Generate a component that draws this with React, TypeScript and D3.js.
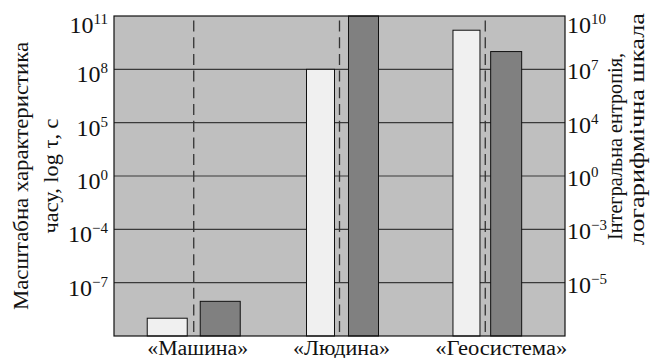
import React from "react";
import * as d3 from "d3";

// ---- data ----
const categories = ["«Машина»", "«Людина»", "«Геосистема»"];
// log10 of the time-scale characteristic τ, s (left axis)
const timeScaleLog = [-9, 8, 10.2];
// log10 of the integral entropy (right axis)
const entropyLog = [-5.7, 10, 8];
// tick exponents (top to bottom), each axis has its own non-uniform log ladder
const leftTickExps = [11, 8, 5, 0, -4, -7];
const rightTickExps = [10, 7, 4, 0, -3, -5];
const leftAxisBottom = -10;
const rightAxisBottom = -7;
const leftTitle = ["Масштабна характеристика", "часу, log τ, с"];
const rightTitle = ["Інтегральна ентропія,", "логарифмічна шкала"];

// ---- layout / style ----
const W = 651;
const H = 358;
const plot = { left: 114, right: 565, top: 16, bottom: 336 };
const lightW = [40, 28, 27];
const darkW = [40, 30, 31];
const lightGap = [6.5, 5, 5.3];
const darkGap = [6.5, 9, 5.4];
const labelShift = [4, 2, 16];
const labelLen = [101, 97, 132];
const leftTitleX = [28, 58];
const leftTitleLen = [268, 115];
const rightTitleX = [622, 644];
const rightTitleStart = [240, 245];
const rightTitleLen = [187, 232];
const FONT =
  "'Liberation Serif', Tinos, 'Noto Serif', 'DejaVu Serif', FreeSerif, 'Times New Roman', Times, serif";

export default function App() {
  const nBands = leftTickExps.length;
  const level = d3.scaleLinear().domain([0, nBands]).range([plot.bottom, plot.top]);
  const levelsY = d3.range(nBands + 1).map((i) => level(i));

  const yLeft = d3
    .scaleLinear()
    .domain([leftAxisBottom, ...leftTickExps.slice().reverse()])
    .range(levelsY);
  const yRight = d3
    .scaleLinear()
    .domain([rightAxisBottom, ...rightTickExps.slice().reverse()])
    .range(levelsY);

  const x = d3
    .scalePoint<string>()
    .domain(categories)
    .range([plot.left, plot.right])
    .padding(0.547);

  const supLabel = (exp: number) => (exp < 0 ? "\u2212" + Math.abs(exp) : String(exp));
  const tStyle = { fontFamily: FONT };
  const midY = (plot.top + plot.bottom) / 2;

  return (
    <svg
      width={W}
      height={H}
      style={{ position: "absolute", left: 0, top: 0, background: "#fff", fontFamily: FONT }}
    >
      <rect
        x={plot.left}
        y={plot.top}
        width={plot.right - plot.left}
        height={plot.bottom - plot.top}
        fill="#bfbfbf"
      />
      {leftTickExps.slice(1).map((e) => (
        <line
          key={"g" + e}
          x1={plot.left}
          x2={plot.right}
          y1={yLeft(e)}
          y2={yLeft(e)}
          stroke="#3a3a3a"
          strokeWidth={1.2}
        />
      ))}
      {categories.map((c) => (
        <line
          key={"d" + c}
          x1={x(c)}
          x2={x(c)}
          y1={plot.top + 4.5}
          y2={plot.bottom}
          stroke="#333"
          strokeWidth={1.3}
          strokeDasharray="11 5.7"
        />
      ))}
      {categories.map((c, i) => {
        const cx = x(c) as number;
        const yl = yLeft(timeScaleLog[i]);
        const yr = yRight(entropyLog[i]);
        return (
          <g key={"b" + c}>
            <rect
              x={cx - lightGap[i] - lightW[i]}
              y={yl}
              width={lightW[i]}
              height={plot.bottom - yl}
              fill="#f0f0f0"
              stroke="#111"
              strokeWidth={1}
            />
            <rect
              x={cx + darkGap[i]}
              y={yr}
              width={darkW[i]}
              height={plot.bottom - yr}
              fill="#808080"
              stroke="#111"
              strokeWidth={1}
            />
          </g>
        );
      })}
      <rect
        x={plot.left}
        y={plot.top}
        width={plot.right - plot.left}
        height={plot.bottom - plot.top}
        fill="none"
        stroke="#111"
        strokeWidth={1.2}
      />
      {leftTickExps.map((e) => (
        <text
          key={"lt" + e}
          x={108}
          y={Math.max(yLeft(e) + 13, plot.top + 17)}
          textAnchor="end"
          fontSize={24}
          fill="#111"
          style={tStyle}
        >
          10
          <tspan dy={-9} fontSize={15}>
            {supLabel(e)}
          </tspan>
        </text>
      ))}
      {rightTickExps.map((e) => (
        <text
          key={"rt" + e}
          x={567}
          y={Math.max(yRight(e) + 10, plot.top + 17)}
          textAnchor="start"
          fontSize={24}
          fill="#111"
          style={tStyle}
        >
          10
          <tspan dy={-9} fontSize={15}>
            {supLabel(e)}
          </tspan>
        </text>
      ))}
      {categories.map((c, i) => (
        <text
          key={"c" + c}
          x={(x(c) as number) + labelShift[i]}
          y={355}
          textAnchor="middle"
          fontSize={20}
          textLength={labelLen[i]}
          lengthAdjust="spacingAndGlyphs"
          fill="#111"
          style={tStyle}
        >
          {c}
        </text>
      ))}
      {leftTitle.map((t, i) => (
        <g key={"ltl" + i} transform={`translate(${leftTitleX[i]}, ${midY}) rotate(-90)`}>
          <text
            textAnchor="middle"
            fontSize={21}
            textLength={leftTitleLen[i]}
            lengthAdjust="spacingAndGlyphs"
            fill="#111"
            style={tStyle}
          >
            {t}
          </text>
        </g>
      ))}
      {rightTitle.map((t, i) => (
        <g
          key={"rtl" + i}
          transform={`translate(${rightTitleX[i]}, ${rightTitleStart[i]}) rotate(-90)`}
        >
          <text
            textAnchor="start"
            fontSize={i === 1 ? 20 : 21}
            textLength={rightTitleLen[i]}
            lengthAdjust="spacingAndGlyphs"
            fill="#111"
            style={tStyle}
          >
            {t}
          </text>
        </g>
      ))}
    </svg>
  );
}
